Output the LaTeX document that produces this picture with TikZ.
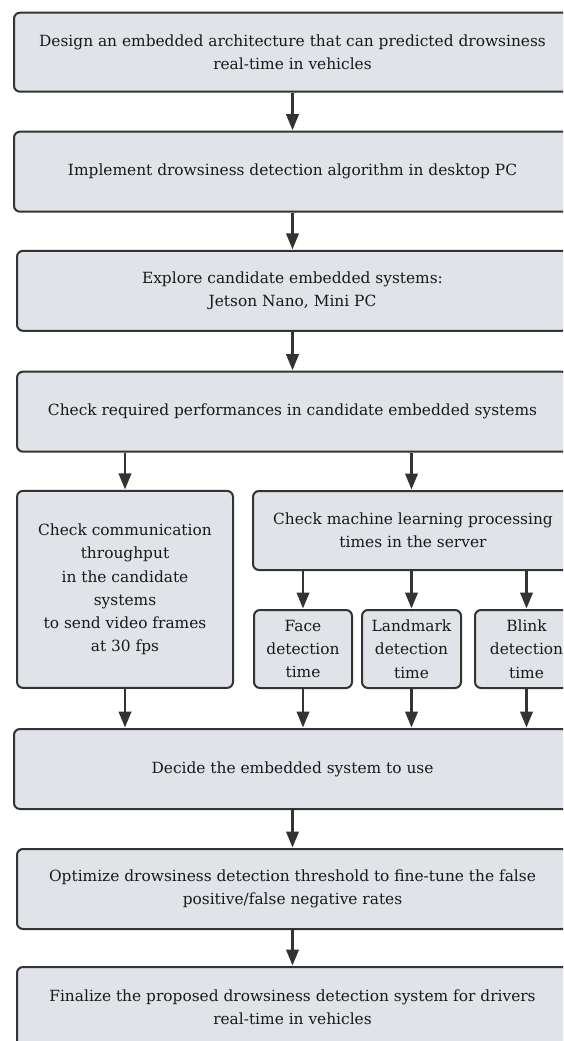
\documentclass[tikz,border=0pt]{standalone}
\usepackage{fontspec}
\setmainfont{DejaVu Serif}
\usetikzlibrary{arrows.meta}
\definecolor{boxfill}{HTML}{E0E3E7}
\definecolor{boxline}{HTML}{333333}
\tikzset{
  stepbox/.style={draw=boxline, fill=boxfill, line width=2pt, rounded corners=6pt,
    inner sep=0pt, align=center, text=black!90, font=\fontsize{15.4}{23.3}\selectfont},
  flow/.style={draw=boxline, line width=2.4pt,
    -{Triangle[length=16pt,width=12.5pt]}, shorten >=0.5pt}
}
\begin{document}
\begin{tikzpicture}[x=1pt,y=-1pt]
\useasboundingbox (0,0) rectangle (563,1041);
\clip (0,0) rectangle (563,1041);
\fill[white] (0,0) rectangle (563,1041);

% main chain
\node[stepbox, minimum width=557, minimum height=79] (design) at (292.5,52.2)
  {Design an embedded architecture that can predicted drowsiness\\real-time in vehicles};
\node[stepbox, minimum width=557, minimum height=80] (impl) at (292.5,171.7)
  {Implement drowsiness detection algorithm in desktop PC};
\node[stepbox, minimum width=551, minimum height=80] (explore) at (292.5,290.8)
  {Explore candidate embedded systems:\\Jetson Nano, Mini PC};
\node[stepbox, minimum width=551, minimum height=80] (check) at (292.5,411.7)
  {Check required performances in candidate embedded systems};

% parallel checks
\node[stepbox, minimum width=216, minimum height=197] (comm) at (125,589.4)
  {Check communication\\throughput\\in the candidate\\systems\\to send video frames\\at 30 fps};
\node[stepbox, minimum width=320, minimum height=79] (ml) at (413,530.5)
  {Check machine learning processing\\times in the server};
\node[stepbox, minimum width=98, minimum height=78] (face) at (303,649)
  {Face\\detection\\time};
\node[stepbox, minimum width=99, minimum height=78] (land) at (411.5,649)
  {Landmark\\detection\\time};
\node[stepbox, minimum width=103, minimum height=78] (blink) at (526.5,649)
  {Blink\\detection\\time};

% decision and tuning
\node[stepbox, minimum width=557, minimum height=80] (decide) at (292.5,769)
  {Decide the embedded system to use};
\node[stepbox, minimum width=551, minimum height=80] (opt) at (292.5,889)
  {Optimize drowsiness detection threshold to fine-tune the false\\positive/false negative rates};
\node[stepbox, minimum width=551, minimum height=80] (final) at (292.5,1007)
  {Finalize the proposed drowsiness detection system for drivers\\real-time in vehicles};

% connectors
\draw[flow] (design) -- (impl);
\draw[flow] (impl) -- (explore);
\draw[flow] (explore) -- (check);
\draw[flow] (check.south -| comm.north) -- (comm.north);
\draw[flow] (check.south -| land.north) -- (land.north |- ml.north);
\draw[flow] (ml.south -| face.north) -- (face.north);
\draw[flow] (ml.south -| land.north) -- (land.north);
\draw[flow] (ml.south -| blink.north) -- (blink.north);
\draw[flow] (comm.south) -- (comm.south |- decide.north);
\draw[flow] (face.south) -- (face.south |- decide.north);
\draw[flow] (land.south) -- (land.south |- decide.north);
\draw[flow] (blink.south) -- (blink.south |- decide.north);
\draw[flow] (decide) -- (opt);
\draw[flow] (opt) -- (final);
\end{tikzpicture}
\end{document}
